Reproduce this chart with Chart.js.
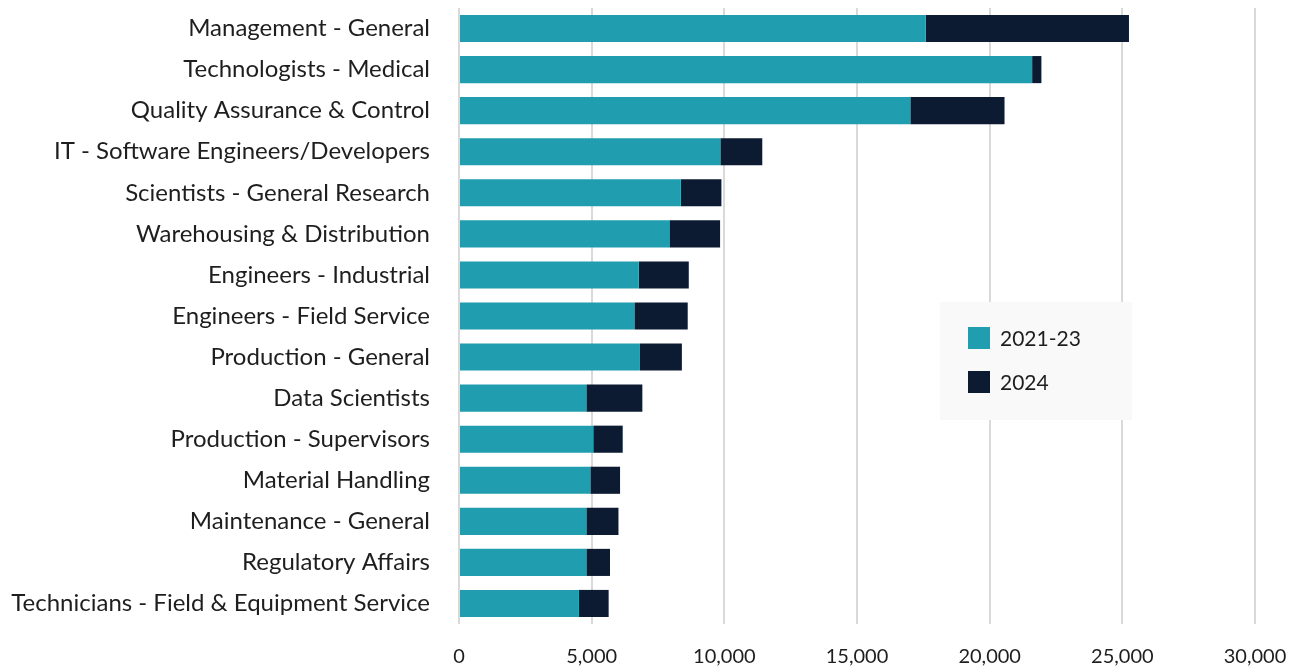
<!DOCTYPE html>
<html>
<head>
<meta charset="utf-8">
<title>Job postings by occupation</title>
<script src="https://cdn.jsdelivr.net/npm/chart.js@4/dist/chart.umd.min.js"></script>
<style>
  html, body { margin: 0; padding: 0; background: #ffffff; }
  #wrap { width: 1302px; height: 669px; position: relative; }
</style>
</head>
<body>
<div id="wrap"><canvas id="chart"></canvas></div>
<script>
// Occupations, top to bottom
const categories = [
  "Management - General",
  "Technologists - Medical",
  "Quality Assurance & Control",
  "IT - Software Engineers/Developers",
  "Scientists - General Research",
  "Warehousing & Distribution",
  "Engineers - Industrial",
  "Engineers - Field Service",
  "Production - General",
  "Data Scientists",
  "Production - Supervisors",
  "Material Handling",
  "Maintenance - General",
  "Regulatory Affairs",
  "Technicians - Field & Equipment Service"
];

// Postings per period (stacked)
const values2021_23 = [17590, 21600, 17010, 9850, 8360, 7930, 6770, 6610, 6820, 4800, 5060, 4950, 4800, 4800, 4520];
const values2024    = [7660,   350,  3550, 1580, 1530, 1910, 1890, 2010, 1580, 2110, 1110, 1120, 1210,  890, 1120];

const seriesLabels = ["2021-23", "2024"];
const xTicks = [0, 5000, 10000, 15000, 20000, 25000, 30000];

const COLOR_A = "#219db0";
const COLOR_B = "#0c1b32";
const TEXT = "#1e1e1e";
const FONT = "Lato, 'Noto Sans', sans-serif";

// Legend drawn as a shaded panel inside the plot area
const panelLegend = {
  id: "panelLegend",
  afterDraw(chart) {
    const ctx = chart.ctx;
    ctx.save();
    ctx.fillStyle = "#f9f9f9";
    ctx.fillRect(940, 302, 192, 118);
    chart.data.datasets.forEach((ds, i) => {
      const y = 327 + i * 44;
      ctx.fillStyle = ds.backgroundColor;
      ctx.fillRect(968, y, 22, 22);
      ctx.fillStyle = TEXT;
      ctx.font = "21px " + FONT;
      ctx.textBaseline = "middle";
      ctx.textAlign = "left";
      ctx.fillText(ds.label, 1000, y + 12);
    });
    ctx.restore();
  }
};

new Chart(document.getElementById("chart"), {
  type: "bar",
  data: {
    labels: categories,
    datasets: [
      { label: seriesLabels[0], data: values2021_23, backgroundColor: COLOR_A },
      { label: seriesLabels[1], data: values2024, backgroundColor: COLOR_B }
    ]
  },
  options: {
    indexAxis: "y",
    responsive: true,
    maintainAspectRatio: false,
    animation: false,
    layout: { padding: { top: 8, right: 47, bottom: 0, left: 0 } },
    datasets: { bar: { categoryPercentage: 1.0, barPercentage: 0.66 } },
    plugins: { legend: { display: false }, tooltip: { enabled: false } },
    scales: {
      x: {
        stacked: true,
        min: 0,
        max: 30000,
        afterBuildTicks(scale) { scale.ticks = xTicks.map(v => ({ value: v })); },
        afterFit(scale) {
          scale.height = 45;
          scale.paddingLeft = 0;
          scale.paddingRight = 0;
        },
        grid: { color: "#d9d9d9", lineWidth: 2, drawTicks: false },
        border: { display: false },
        ticks: {
          padding: 21,
          color: TEXT,
          font: { family: FONT, size: 20 },
          callback: v => Number(v).toLocaleString("en-US")
        }
      },
      y: {
        stacked: true,
        afterFit(scale) {
          scale.width = 459;
          scale.paddingTop = 0;
          scale.paddingBottom = 0;
        },
        grid: { display: false, drawTicks: false },
        border: { display: false },
        ticks: {
          padding: 29,
          color: TEXT,
          font: { family: FONT, size: 24 }
        }
      }
    }
  },
  plugins: [panelLegend]
});
</script>
</body>
</html>
